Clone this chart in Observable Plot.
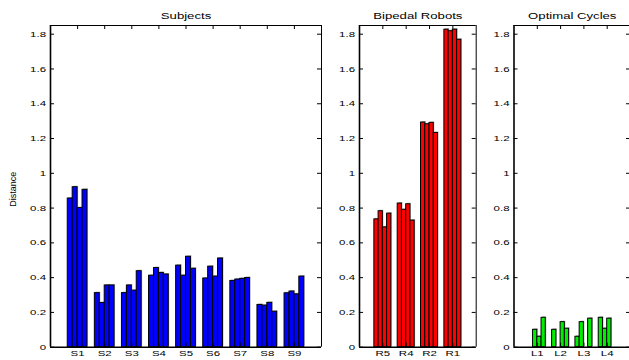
<!DOCTYPE html>
<html><head><meta charset="utf-8">
<script src="https://cdn.jsdelivr.net/npm/d3@7"></script>
<script src="https://cdn.jsdelivr.net/npm/@observablehq/plot@0.6"></script>
<style>
html,body{margin:0;padding:0;background:#fff;overflow:hidden}
#chart{position:relative;width:629px;height:360px;overflow:hidden;background:#fff}
#chart svg{position:absolute;top:0;overflow:visible}
</style></head><body><div id="chart"></div>
<script>
// ---- data ----
const subjects = ["S1","S2","S3","S4","S5","S6","S7","S8","S9"];
const subjectValues = [
  [0.855, 0.920, 0.800, 0.905],
  [0.311, 0.254, 0.355, 0.355],
  [0.311, 0.355, 0.325, 0.437],
  [0.411, 0.455, 0.427, 0.418],
  [0.469, 0.411, 0.520, 0.451],
  [0.395, 0.463, 0.406, 0.510],
  [0.381, 0.389, 0.393, 0.398],
  [0.243, 0.239, 0.255, 0.204],
  [0.310, 0.320, 0.304, 0.406]
];
const robots = ["R5","R4","R2","R1"];
const robotValues = [
  [0.735, 0.782, 0.689, 0.768],
  [0.826, 0.790, 0.822, 0.728],
  [1.292, 1.282, 1.290, 1.232],
  [1.826, 1.817, 1.826, 1.768]
];
const cycles = ["L1","L2","L3","L4"];
const cycleValues = [
  [0.000, 0.100, 0.060, 0.169],
  [0.100, 0.000, 0.144, 0.106],
  [0.060, 0.144, 0.000, 0.164],
  [0.169, 0.106, 0.164, 0.000]
];
const yTicks = [0, 0.2, 0.4, 0.6, 0.8, 1, 1.2, 1.4, 1.6, 1.8];
const yMax = 1.85;
const titles = ["Subjects", "Bipedal Robots", "Optimal Cycles"];
const yLabel = "Distance";

const H = 360, MT = 25, MB = 13.3;
const FONT = "Liberation Sans, Arial, Helvetica, sans-serif";
const STRETCH = 1.43;

function stretchText(svg) {
  svg.querySelectorAll("text").forEach(t => {
    if ((t.getAttribute("transform") || "").includes("rotate")) return;
    const L = t.getComputedTextLength();
    if (!(L > 0)) return;
    const anchor = getComputedStyle(t).textAnchor;
    const newL = L * STRETCH;
    const x0 = parseFloat(t.getAttribute("x")) || 0;
    const off = anchor === "end" ? newL : anchor === "middle" ? newL / 2 : 0;
    t.setAttribute("text-anchor", "start");
    t.style.textAnchor = "start";
    t.setAttribute("x", (x0 - off).toFixed(2));
    t.setAttribute("textLength", newL.toFixed(2));
    t.setAttribute("lengthAdjust", "spacingAndGlyphs");
  });
}

function panel({title, groups, values, color, left, width, marginLeft, marginRight, ylabel}) {
  const n = groups.length;
  const nb = values[0].length;
  const gw = Math.min(0.8, nb / (nb + 1.5));
  const bw = gw / nb;
  const rows = [];
  groups.forEach((g, i) => values[i].forEach((v, j) => rows.push({
    x1: i + 1 - gw / 2 + j * bw,
    x2: i + 1 - gw / 2 + (j + 1) * bw,
    y: v
  })));
  const xTicks = d3.range(1, n + 1);
  const innerW = width - marginLeft - marginRight;
  const innerH = H - MT - MB;
  const marks = [
    Plot.rectY(rows, {x1: "x1", x2: "x2", y: "y", fill: "#b4b4b4", dx: 1, dy: -1}),
    Plot.rectY(rows, {x1: "x1", x2: "x2", y: "y", fill: color, stroke: "black", strokeWidth: 1}),
    // frame
    Plot.ruleX([0], {strokeWidth: 1.6}),
    Plot.ruleX([n + 1], {strokeWidth: 1}),
    Plot.ruleY([yMax], {strokeWidth: 1}),
    Plot.ruleY([0], {strokeWidth: 1.6}),
    // inward ticks
    Plot.ruleY(yTicks, {insetRight: innerW - 4}),
    Plot.ruleY(yTicks, {insetLeft: innerW - 4}),
    Plot.ruleX(xTicks, {insetBottom: innerH - 4}),
    Plot.ruleX(xTicks, {insetTop: innerH - 4}),
    // tick labels
    Plot.axisY({ticks: yTicks, tickSize: 0, tickPadding: 4.5, tickFormat: d => String(d), label: null, fontSize: 8}),
    Plot.axisX({ticks: xTicks, tickSize: 0, tickPadding: 3.5, tickFormat: i => groups[i - 1], label: null, fontSize: 8}),
    Plot.text([title], {frameAnchor: "top", lineAnchor: "bottom", dy: -7, fontSize: 9.2})
  ];
  if (ylabel) {
    marks.push(Plot.text([ylabel], {frameAnchor: "left", rotate: -90, textAnchor: "middle", lineAnchor: "bottom", dx: -(marginLeft - 15), dy: 3, fontSize: 9}));
  }
  const svg = Plot.plot({
    width, height: H,
    marginLeft, marginRight, marginTop: MT, marginBottom: MB,
    x: {type: "linear", domain: [0, n + 1]},
    y: {domain: [0, yMax]},
    style: {fontFamily: FONT, fontSize: "8px", color: "black", background: "transparent"},
    marks
  });
  svg.style.left = left + "px";
  document.getElementById("chart").appendChild(svg);
  stretchText(svg);
}

panel({title: titles[0], groups: subjects, values: subjectValues, color: "#0000ff", left: 0, width: 330, marginLeft: 50, marginRight: 9, ylabel: yLabel});
panel({title: titles[1], groups: robots, values: robotValues, color: "#ff0000", left: 330, width: 160, marginLeft: 29, marginRight: 14.3});
panel({title: titles[2], groups: cycles, values: cycleValues, color: "#00ee00", left: 490, width: 141, marginLeft: 23.5, marginRight: 1});
</script></body></html>
